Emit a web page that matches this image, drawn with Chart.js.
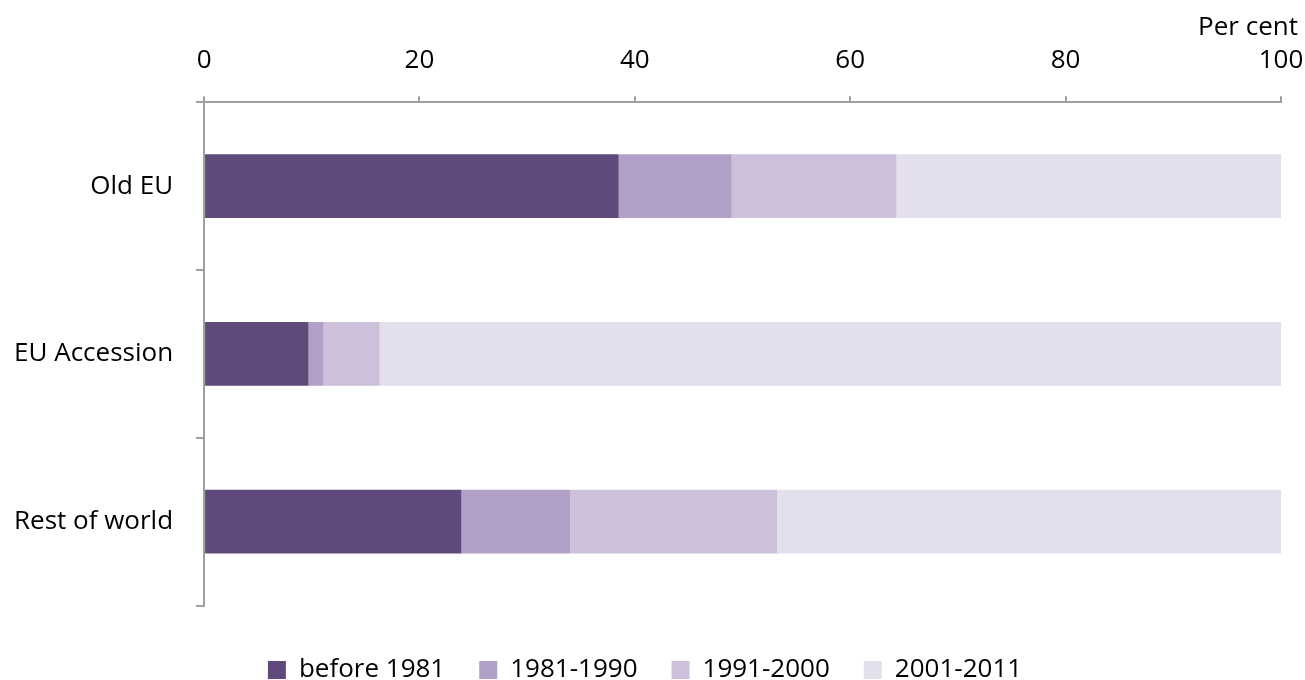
<!DOCTYPE html>
<html>
<head>
<meta charset="utf-8">
<script src="https://cdn.jsdelivr.net/npm/chart.js@4/dist/chart.umd.min.js"></script>
<style>
  body { margin: 0; background: #fff; }
  #wrap { width: 1305px; height: 680px; position: relative; }
</style>
</head>
<body>
<div id="wrap"><canvas id="barGraph"></canvas></div>
<script>
var categories = ["Old EU", "EU Accession", "Rest of world"];
var seriesNames = ["before 1981", "1981-1990", "1991-2000", "2001-2011"];
var before1981 = [38.5, 9.7, 23.9];
var from1981to1990 = [10.5, 1.4, 10.1];
var from1991to2000 = [15.3, 5.2, 19.2];
var from2001to2011 = [35.7, 83.7, 46.8];
var seriesColors = ["#604a7b", "#b1a0c7", "#ccc0da", "#e4dfec"];
var unitLabel = "Per cent";

var axisGray = "#a0a0a0";
var textFont = { family: "Open Sans", size: 26 };

// unit label in the top right corner, above the last tick label
var unitPlugin = {
  id: 'unitLabel',
  afterDraw: function (chart) {
    var c = chart.ctx;
    c.save();
    c.font = "26px 'Open Sans'";
    c.fillStyle = "#000";
    c.textAlign = "right";
    c.textBaseline = "middle";
    c.fillText(unitLabel, chart.width - 7, 28);
    c.restore();
  }
};

var ctx = document.getElementById("barGraph").getContext('2d');
var myChart = new Chart(ctx, {
  type: 'bar',
  data: {
    labels: categories,
    datasets: [before1981, from1981to1990, from1991to2000, from2001to2011].map(function (vals, i) {
      return {
        label: seriesNames[i],
        data: vals,
        backgroundColor: seriesColors[i],
        barPercentage: 0.38,
        categoryPercentage: 1
      };
    })
  },
  plugins: [unitPlugin],
  options: {
    indexAxis: 'y',
    responsive: true,
    maintainAspectRatio: false,
    animation: false,
    layout: { padding: { left: -9, right: 6, top: 25, bottom: -13 } },
    scales: {
      x: {
        position: 'top',
        stacked: true,
        min: 0,
        max: 100,
        ticks: { stepSize: 20, color: "#000", font: textFont, padding: 20 },
        grid: { drawOnChartArea: false, drawTicks: true, tickLength: 6, color: axisGray, lineWidth: 2 },
        border: { color: axisGray, width: 2 },
        afterFit: function (scale) { scale.paddingRight = 24; }
      },
      y: {
        stacked: true,
        ticks: { color: "#000", font: textFont, padding: 23 },
        grid: { drawOnChartArea: false, drawTicks: true, tickLength: 8, color: axisGray, lineWidth: 2, offset: true },
        border: { color: axisGray, width: 2 }
      }
    },
    plugins: {
      legend: {
        position: 'bottom',
        title: { display: true, text: ' ', font: { size: 2 }, padding: { top: 0, bottom: 15 } },
        labels: {
          color: "#000",
          font: textFont,
          boxWidth: 18,
          boxHeight: 18,
          padding: 34
        }
      },
      tooltip: { enabled: false }
    }
  }
});
</script>
</body>
</html>
